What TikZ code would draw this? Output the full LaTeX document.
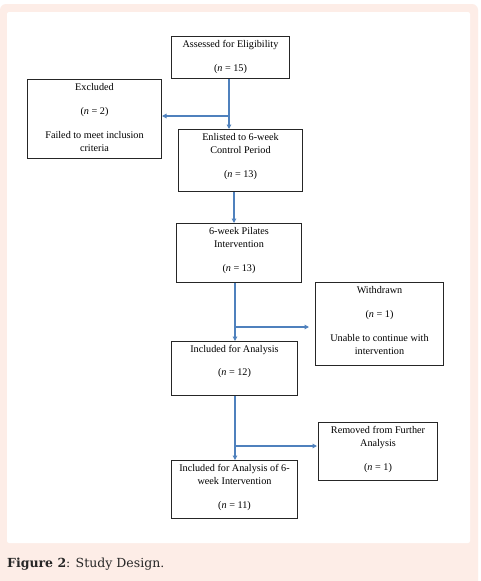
\documentclass[tikz,border=0pt]{standalone}
\usepackage{fontspec}
\setmainfont{Liberation Serif}
\newfontfamily\capfont{DejaVu Serif}
\usetikzlibrary{arrows.meta}
\definecolor{peach}{RGB}{253,237,231}
\definecolor{arrblue}{RGB}{79,129,189}
\tikzset{
  flowbox/.style={draw=black!85, line width=1pt, fill=white, anchor=north west, inner sep=0pt},
  boxtext/.style={anchor=north, inner sep=0pt, align=center, font=\fontsize{10.2}{13}\selectfont, text=black},
  arr/.style={draw=arrblue, line width=1.3pt, -{Triangle[length=4.5pt,width=4.5pt]}}
}
\newcommand{\nn}[1]{(\textit{n} = #1)}
\begin{document}
\begin{tikzpicture}[x=1pt,y=-1pt]
\useasboundingbox (0,0) rectangle (481,581);
\fill[white] (0,0) rectangle (481,581);
\fill[peach, rounded corners=6pt] (0,4) rectangle (478,590);
\fill[white, rounded corners=2pt] (7,12) rectangle (470,543);

% boxes
\node[flowbox, minimum width=118pt, minimum height=42pt] (A) at (171,36) {};
\node[boxtext] (At) at ([yshift=-4.5pt]A.north) {Assessed for Eligibility\\[11pt]\nn{15}};

\node[flowbox, minimum width=134pt, minimum height=79pt] (X) at (27,79) {};
\node[boxtext] (Xt) at ([yshift=-4.5pt]X.north) {Excluded\\[11pt]\nn{2}\\[11pt]Failed to meet inclusion\\criteria};

\node[flowbox, minimum width=124pt, minimum height=62pt] (E) at (178,129) {};
\node[boxtext] (Et) at ([yshift=-4.5pt]E.north) {Enlisted to 6-week\\Control Period\\[11pt]\nn{13}};

\node[flowbox, minimum width=125pt, minimum height=59pt] (P) at (176,223) {};
\node[boxtext] (Pt) at ([yshift=-4.5pt]P.north) {6-week Pilates\\Intervention\\[11pt]\nn{13}};

\node[flowbox, minimum width=128pt, minimum height=83pt] (W) at (315,282) {};
\node[boxtext] (Wt) at ([yshift=-4.5pt]W.north) {Withdrawn\\[11pt]\nn{1}\\[11pt]Unable to continue with\\intervention};

\node[flowbox, minimum width=126pt, minimum height=54pt] (I) at (171,341) {};
\node[boxtext] (It) at ([yshift=-4.5pt]I.north) {Included for Analysis\\[10pt]\nn{12}};

\node[flowbox, minimum width=119pt, minimum height=58pt] (R) at (318,422) {};
\node[boxtext] (Rt) at ([yshift=-4.5pt]R.north) {Removed from Further\\Analysis\\[11pt]\nn{1}};

\node[flowbox, minimum width=126pt, minimum height=58pt] (F) at (171,460) {};
\node[boxtext] (Ft) at ([yshift=-4.5pt]F.north) {Included for Analysis of 6-\\week Intervention\\[11pt]\nn{11}};

% connectors
\coordinate (c1) at (229,116);
\coordinate (c2) at (234,200);
\coordinate (c3) at (235,327);
\coordinate (c4) at (235,446);

\draw[arr] (c1 |- A.south) -- (c1 |- E.north);
\draw[arr] (c1) -- (c1 -| X.east);
\draw[arr] (c2 |- E.south) -- (c2 |- P.north);
\draw[arr] (c3 |- P.south) -- (c3 |- I.north);
\draw[arr, shorten >=6pt] (c3) -- (c3 -| W.west);
\draw[arr] (c4 |- I.south) -- (c4 |- F.north);
\draw[arr, shorten >=1pt] (c4) -- (c4 -| R.west);

% caption
\node[anchor=west, inner sep=0pt, font=\capfont\fontsize{12.5}{15}\selectfont, text=black!85] (cap) at (7,564) {\textbf{Figure 2}: Study Design.};
\end{tikzpicture}
\end{document}
